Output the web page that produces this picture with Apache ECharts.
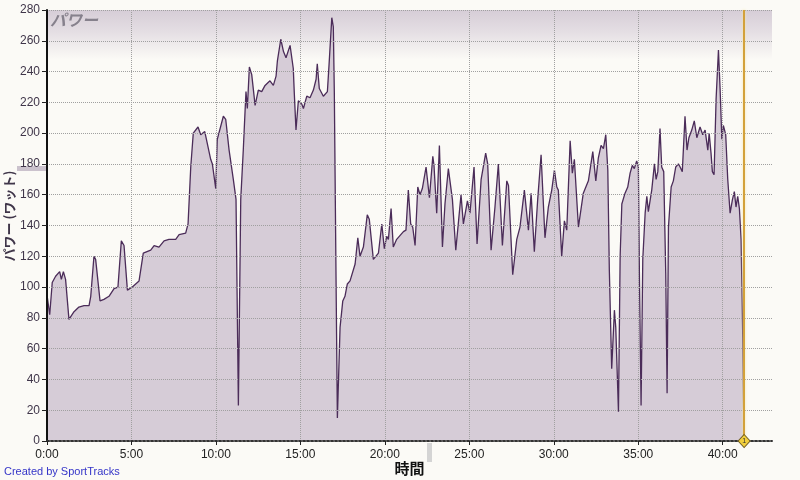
<!DOCTYPE html>
<html>
<head>
<meta charset="utf-8">
<script src="https://cdn.jsdelivr.net/npm/echarts@6/dist/echarts.min.js"></script>
<style>
html,body{margin:0;padding:0;background:#FBFAF6;}
#chart{width:800px;height:480px;}
</style>
</head>
<body>
<div id="chart"></div>
<script>
// elapsed time in minutes
const minutes = [0,0.16,0.31,0.51,0.75,0.85,0.97,1.1,1.3,1.6,1.89,2.19,2.49,2.59,2.78,2.88,3.14,3.37,3.67,3.97,4.2,4.4,4.56,4.76,5.05,5.45,5.7,6.14,6.34,6.63,6.93,7.22,7.62,7.82,8.21,8.35,8.51,8.66,8.94,9.1,9.34,9.69,9.79,9.99,10.08,10.44,10.58,10.78,11.03,11.19,11.33,11.47,11.62,11.72,11.78,11.86,11.98,12.12,12.32,12.51,12.71,12.91,13.2,13.4,13.56,13.64,13.84,14.0,14.15,14.39,14.58,14.64,14.74,14.88,15.08,15.18,15.38,15.57,15.77,15.93,16.0,16.12,16.36,16.6,16.7,16.86,16.95,17.01,17.11,17.19,17.35,17.51,17.64,17.78,17.94,18.24,18.4,18.53,18.73,18.96,19.08,19.32,19.62,19.82,19.97,20.11,20.21,20.37,20.5,20.7,21.1,21.25,21.39,21.53,21.65,21.79,21.95,22.08,22.22,22.44,22.54,22.64,22.84,22.91,23.07,23.23,23.41,23.56,23.76,24.0,24.2,24.51,24.65,24.89,25.04,25.28,25.46,25.7,25.97,26.09,26.29,26.52,26.72,26.96,27.22,27.32,27.57,27.81,28.0,28.26,28.5,28.66,28.85,29.05,29.25,29.48,29.68,29.88,30.04,30.18,30.27,30.47,30.63,30.77,30.97,31.1,31.22,31.46,31.75,32.05,32.31,32.49,32.64,32.8,32.94,33.08,33.2,33.29,33.43,33.59,33.67,33.83,33.93,34.03,34.22,34.38,34.52,34.65,34.77,34.91,35.01,35.07,35.17,35.27,35.41,35.51,35.6,35.8,35.96,36.06,36.16,36.29,36.39,36.51,36.63,36.71,36.79,36.95,37.08,37.22,37.38,37.48,37.61,37.77,37.89,38.0,38.17,38.32,38.47,38.66,38.82,38.96,39.12,39.2,39.31,39.39,39.49,39.61,39.75,39.85,39.95,40.04,40.18,40.3,40.44,40.58,40.69,40.79,40.89,40.99,41.09,41.19,41.25];
// power in watts
const watts = [95,82,103,107,110,105,110,105,79,84,87,88,88,94,120,118,91,92,94,99,100,130,127,98,100,104,122,124,127,126,130,131,131,134,135,141,178,200,204,199,201,183,180,164,196,211,209,189,170,157,23,157,189,213,227,216,243,238,218,228,227,231,234,231,237,247,261,253,249,257,242,226,202,221,219,216,224,223,228,235,245,229,224,227,245,275,269,226,107,15,74,91,94,102,104,115,132,120,126,147,144,118,122,141,125,133,131,151,126,131,136,137,163,141,139,127,165,160,164,178,177,158,185,179,148,192,126,154,177,157,124,160,141,156,148,178,128,170,187,180,124,152,180,127,169,166,108,131,139,163,137,161,123,157,186,132,152,163,176,165,163,120,143,137,195,174,183,139,161,169,188,169,184,192,190,199,176,111,47,85,74,19,120,154,161,165,174,179,177,182,178,109,23,118,148,159,149,163,180,170,175,203,178,175,109,31,139,165,169,178,180,178,175,211,189,197,202,208,197,204,199,202,189,200,187,175,173,222,254,228,196,205,199,170,148,157,162,152,159,151,131,66,12];
const xTickLabels = ['0:00','5:00','10:00','15:00','20:00','25:00','30:00','35:00','40:00'];
const markerMinute = [41.27];
const chartTitle = 'パワー';
const yName = 'パワー (ワット)';
const xName = '時間';

const points = minutes.map((m, i) => [m, watts[i]]);
const chart = echarts.init(document.getElementById('chart'), null, {renderer: 'canvas'});
const labelColor = '#3f3549';
chart.setOption({
  backgroundColor: '#FBFAF6',
  animation: false,
  title: {
    text: chartTitle, left: 45, top: 7,
    textStyle: {fontSize: 16, fontStyle: 'italic', fontWeight: 'bold', color: '#86818c', fontFamily: 'Noto Sans CJK JP'}
  },
  grid: {
    left: 47, right: 28, top: 10, bottom: 39, show: true, borderWidth: 0,
    containLabel: false, outerBoundsMode: 'none',
    backgroundColor: new echarts.graphic.LinearGradient(0, 0, 0, 1, [
      {offset: 0, color: '#d6cdd7'},
      {offset: 0.05, color: '#e4dee3'},
      {offset: 0.115, color: '#FBFAF6'},
      {offset: 1, color: '#FBFAF6'}
    ])
  },
  xAxis: {
    type: 'value', min: 0, max: 42.92, interval: 5, z: 5,
    name: xName, nameLocation: 'middle', nameGap: 20, nameMoveOverlap: false,
    nameTextStyle: {fontSize: 15, fontWeight: 'bold', color: '#111', fontFamily: 'Noto Sans CJK JP'},
    axisLine: {show: true, onZero: false, lineStyle: {color: '#333', width: 2, type: 'dotted'}},
    axisTick: {show: true, length: 4, lineStyle: {color: '#222'}},
    axisLabel: {
      margin: 8, fontSize: 12, color: '#222', fontFamily: 'Liberation Sans',
      showMaxLabel: false,
      formatter: v => (Math.abs(v % 5) < 1e-6 ? xTickLabels[Math.round(v / 5)] || '' : '')
    },
    splitLine: {show: true, showMaxLine: false, lineStyle: {color: '#a0a0a0', type: 'dotted', width: 1}}
  },
  yAxis: {
    type: 'value', min: 0, max: 280, interval: 20, z: 5,
    axisLine: {show: true, lineStyle: {color: '#111', width: 2}},
    axisTick: {show: true, length: 5, lineStyle: {color: '#222'}},
    axisLabel: {margin: 7, fontSize: 12, color: labelColor, fontFamily: 'Liberation Sans'},
    splitLine: {show: true, lineStyle: {color: '#a0a0a0', type: 'dotted', width: 1}}
  },
  graphic: [
    {type: 'rect', left: 17, top: 166, shape: {width: 30, height: 5}, style: {fill: '#cbc2cd'}, z: -1},
    {type: 'rect', left: 427, top: 443, shape: {width: 5, height: 19}, style: {fill: '#d4d4d4'}, z: -1},
    {type: 'text', x: 9, y: 216, rotation: Math.PI / 2,
      style: {text: yName, fill: labelColor, font: 'bold 13px "Noto Sans CJK JP"', align: 'center', verticalAlign: 'middle'}},
    {type: 'text', left: 4, top: 466, style: {text: 'Created by SportTracks', fill: '#3535c8', font: '11px "Liberation Sans", Arial'}}
  ],
  series: [{
    type: 'line',
    data: points,
    symbol: 'none',
    sampling: null,
    z: 2,
    lineStyle: {color: '#4b2c59', width: 1.3},
    areaStyle: {color: '#d6ccd7', opacity: 1},
    markLine: {
      silent: true, symbol: ['none', 'none'],
      label: {show: false},
      lineStyle: {color: '#d3a13a', width: 2, type: 'solid', shadowColor: '#f4e6a8', shadowBlur: 3},
      data: [{xAxis: markerMinute[0]}]
    },
    markPoint: {
      silent: true, z: 10,
      data: [{coord: [markerMinute[0], 0], symbol: 'diamond', symbolSize: [12, 13],
        itemStyle: {color: '#f2cf3c', borderColor: '#6e5a1e', borderWidth: 1},
        label: {show: true, formatter: '1', fontSize: 7, color: '#333'}}]
    }
  }]
});
</script>
</body>
</html>
